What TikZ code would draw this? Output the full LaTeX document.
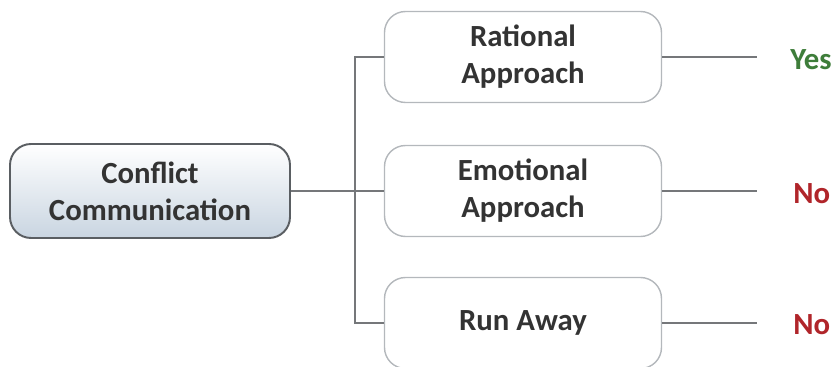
\documentclass[tikz,border=0pt]{standalone}
\usepackage{fontspec}
\setmainfont{Carlito}
\definecolor{boxline}{HTML}{B4B8BC}
\definecolor{rootline}{HTML}{5A5E62}
\definecolor{rootfill}{HTML}{C9D5E1}
\definecolor{linkgray}{HTML}{75777A}
\definecolor{yesgreen}{HTML}{3E7D3A}
\definecolor{nored}{HTML}{B0252A}
\tikzset{
  rootbox/.style={draw=rootline, line width=1.1pt, rounded corners=0.42cm,
    top color=white, bottom color=rootfill, minimum width=5.6cm,
    minimum height=1.88cm, align=center, text=black!80,
    font=\fontsize{17.5}{21}\selectfont\bfseries},
  choicebox/.style={draw=boxline, line width=0.8pt, rounded corners=0.42cm,
    fill=white, minimum width=5.54cm, minimum height=1.82cm, align=center,
    text=black!80, font=\fontsize{17.5}{21}\selectfont\bfseries},
  link/.style={draw=linkgray, line width=1.3pt},
  verdict/.style={anchor=west, inner sep=0pt,
    font=\fontsize{17.5}{21}\selectfont\bfseries}
}
\begin{document}
\begin{tikzpicture}
\useasboundingbox (0,0) rectangle (16.7,-7.34);

%root and the three choices
\node[rootbox] (conflict) at (3.0,-3.82) {Conflict\\Communication};
\node[choicebox] (rational) at (10.46,-1.14) {Rational\\Approach};
\node[choicebox] (emotional) at (10.46,-3.82) {Emotional\\Approach};
\node[choicebox] (runaway) at (10.46,-6.46) {Run Away};

%answers
\node[verdict, text=yesgreen] (yes) at (15.8,-1.2) {Yes};
\node[verdict, text=nored] (noemo) at (15.86,-3.88) {No};
\node[verdict, text=nored] (norun) at (15.86,-6.5) {No};

%trunk points
\coordinate (jrat) at (7.1,-1.14);
\coordinate (jemo) at (7.1,-3.82);
\coordinate (jrun) at (7.1,-6.46);

%line ends before answers
\coordinate (erat) at (15.14,-1.14);
\coordinate (eemo) at (15.14,-3.82);
\coordinate (erun) at (15.14,-6.46);

%connecting them
\draw[link] (conflict.east) -- (jemo);
\draw[link] (rational.west) -- (jrat) -- (jrun) -- (runaway.west);
\draw[link] (jemo) -- (emotional.west);
\draw[link] (rational.east) -- (erat);
\draw[link] (emotional.east) -- (eemo);
\draw[link] (runaway.east) -- (erun);
\end{tikzpicture}
\end{document}
